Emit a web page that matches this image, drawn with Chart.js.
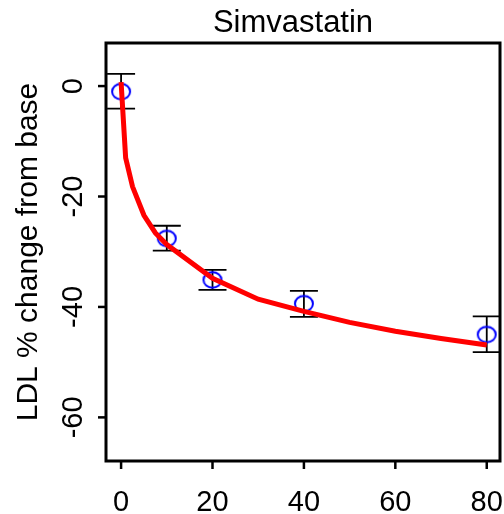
<!DOCTYPE html>
<html>
<head>
<meta charset="utf-8">
<script src="https://cdn.jsdelivr.net/npm/chart.js@4.4.1/dist/chart.umd.min.js"></script>
<style>
  html, body { margin: 0; padding: 0; background: #fff; }
  #wrap { width: 504px; height: 514px; }
</style>
</head>
<body>
<div id="wrap"><canvas id="chart" width="504" height="514"></canvas></div>
<script>
// observed doses and mean LDL change with error bar ends
const doses = [0, 10, 20, 40, 80];
const meanChange = [-1.0, -27.6, -35.1, -39.4, -45.0];
const errHigh = [2.2, -25.3, -33.3, -37.1, -41.7];
const errLow = [-4.1, -29.8, -36.9, -41.8, -48.2];

// fitted curve
const curveDose = [0, 1, 2.5, 5, 7.5, 10, 20, 30, 40, 50, 60, 70, 80];
const curveChange = [0.7, -13.0, -18.2, -23.4, -26.6, -28.7, -34.8, -38.6, -40.8, -42.8, -44.4, -45.7, -46.9];

const xTicks = [0, 20, 40, 60, 80];
const yTicks = [0, -20, -40, -60];
const titleText = 'Simvastatin';
const yTitle = 'LDL % change from base';

const FONT = '"Liberation Sans", Arial, Helvetica, sans-serif';

// open ellipse marker (R circle looks slightly squashed here)
function makeRing() {
    const c = document.createElement('canvas');
    c.width = 24;
    c.height = 22;
    const g = c.getContext('2d');
    g.strokeStyle = '#0000ff';
    g.lineWidth = 2;
    g.beginPath();
    g.ellipse(12, 11, 9, 7.7, 0, 0, Math.PI * 2);
    g.stroke();
    return c;
}

const errorBars = {
    id: 'errorBars',
    beforeDatasetsDraw(chart) {
        const ctx = chart.ctx;
        const xs = chart.scales.x, ys = chart.scales.y;
        ctx.save();
        ctx.strokeStyle = '#000';
        ctx.lineWidth = 1.8;
        doses.forEach((d, i) => {
            const px = xs.getPixelForValue(d);
            const top = ys.getPixelForValue(errHigh[i]);
            const bot = ys.getPixelForValue(errLow[i]);
            ctx.beginPath();
            ctx.moveTo(px, top); ctx.lineTo(px, bot);
            ctx.moveTo(px - 14, top); ctx.lineTo(px + 14, top);
            ctx.moveTo(px - 14, bot); ctx.lineTo(px + 14, bot);
            ctx.stroke();
        });
        ctx.restore();
    }
};

const frame = {
    id: 'frame',
    afterDraw(chart) {
        const ctx = chart.ctx;
        const a = chart.chartArea;
        const xs = chart.scales.x, ys = chart.scales.y;
        ctx.save();
        ctx.strokeStyle = '#000';
        ctx.lineWidth = 3;
        ctx.strokeRect(a.left, a.top, a.right - a.left, a.bottom - a.top);

        ctx.lineWidth = 2.5;
        ctx.fillStyle = '#000';
        ctx.font = '29px ' + FONT;
        ctx.textAlign = 'center';
        ctx.textBaseline = 'alphabetic';
        xTicks.forEach(v => {
            const px = xs.getPixelForValue(v);
            ctx.beginPath();
            ctx.moveTo(px, a.bottom); ctx.lineTo(px, a.bottom + 8);
            ctx.stroke();
            ctx.fillText(String(v), px, 511);
        });
        yTicks.forEach(v => {
            const py = ys.getPixelForValue(v);
            ctx.beginPath();
            ctx.moveTo(a.left, py); ctx.lineTo(a.left - 8, py);
            ctx.stroke();
            ctx.save();
            ctx.translate(82, py);
            ctx.rotate(-Math.PI / 2);
            ctx.fillText(String(v), 0, 0);
            ctx.restore();
        });

        ctx.font = '30px ' + FONT;
        ctx.save();
        ctx.translate(37, (a.top + a.bottom) / 2);
        ctx.rotate(-Math.PI / 2);
        ctx.fillText(yTitle, 0, 0);
        ctx.restore();

        ctx.font = '31px ' + FONT;
        ctx.fillText(titleText, 293, 32);
        ctx.restore();
    }
};

new Chart(document.getElementById('chart'), {
    type: 'scatter',
    data: {
        datasets: [
            {
                label: 'fit',
                data: curveDose.map((d, i) => ({ x: d, y: curveChange[i] })),
                showLine: true,
                borderColor: '#ff0000',
                borderWidth: 5,
                pointRadius: 0,
                tension: 0,
                order: 0
            },
            {
                label: 'observed',
                data: doses.map((d, i) => ({ x: d, y: meanChange[i] })),
                pointStyle: makeRing(),
                pointRadius: 10,
                order: 1
            }
        ]
    },
    options: {
        responsive: false,
        animation: false,
        layout: { autoPadding: false, padding: { left: 106, right: 4, top: 43, bottom: 53 } },
        plugins: { legend: { display: false }, tooltip: { enabled: false } },
        scales: {
            x: { type: 'linear', min: -3.3, max: 82.9, display: false },
            y: { type: 'linear', min: -67.9, max: 7.8, display: false }
        }
    },
    plugins: [errorBars, frame]
});
</script>
</body>
</html>
